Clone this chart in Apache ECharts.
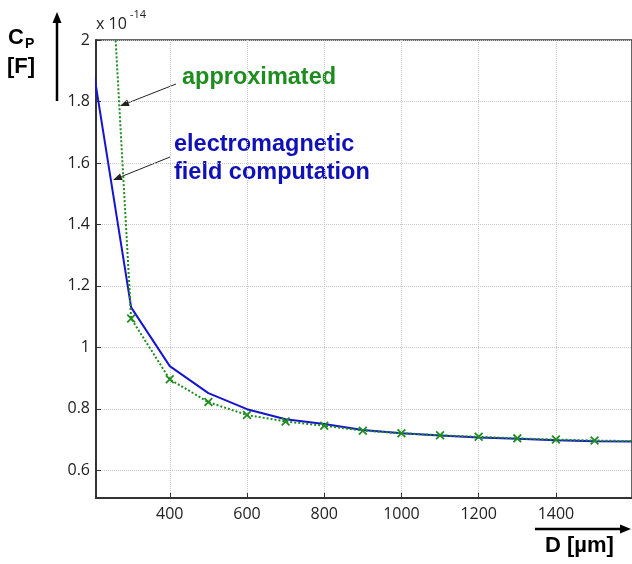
<!DOCTYPE html>
<html>
<head>
<meta charset="utf-8">
<script src="https://cdn.jsdelivr.net/npm/echarts@6/dist/echarts.min.js"></script>
<style>
  html, body { margin: 0; padding: 0; background: #fff; }
  #chart { width: 632px; height: 564px; }
</style>
</head>
<body>
<div id="chart"></div>
<script>
// D in um, capacitance in units of 1e-14 F
var dValues = [200, 300, 400, 500, 600, 700, 800, 900, 1000, 1100, 1200, 1300, 1400, 1500, 1600];
var emField = [1.92, 1.13, 0.939, 0.851, 0.799, 0.766, 0.751, 0.731, 0.721, 0.713, 0.707, 0.703, 0.698, 0.695, 0.694];
var approx = [3.35, 1.094, 0.896, 0.822, 0.780, 0.759, 0.745, 0.729, 0.721, 0.714, 0.709, 0.704, 0.700, 0.697, 0.695];

var myChart = echarts.init(document.getElementById('chart'), null, { renderer: 'canvas' });

function pairs(xs, ys) {
    return xs.map(function (x, i) { return [x, ys[i]]; });
}

// arrow: line + filled head
function arrow(x1, y1, x2, y2, width, headLen, headW, color) {
    var dx = x2 - x1, dy = y2 - y1;
    var len = Math.sqrt(dx * dx + dy * dy);
    var ux = dx / len, uy = dy / len;
    var bx = x2 - ux * headLen, by = y2 - uy * headLen;
    return [{
        type: 'line',
        shape: { x1: x1, y1: y1, x2: bx, y2: by },
        style: { stroke: color, lineWidth: width }
    }, {
        type: 'polygon',
        shape: { points: [[x2, y2], [bx - uy * headW, by + ux * headW], [bx + uy * headW, by - ux * headW]] },
        style: { fill: color }
    }];
}

var xMark = 'path://M0,1.4L1.4,0L5,3.6L8.6,0L10,1.4L6.4,5L10,8.6L8.6,10L5,6.4L1.4,10L0,8.6L3.6,5Z';
var labelFont = { fontFamily: 'Open Sans', fontSize: 16, color: '#222' };
var bold = 'Liberation Sans';
var plain = function (v) { return String(v); };

var graphics = []
    .concat(arrow(57, 101, 57, 12, 2.5, 11, 4.5, '#000'))
    .concat(arrow(535, 529, 631, 529, 2.5, 11, 4.5, '#000'))
    .concat(arrow(176, 84, 120, 106, 1, 9, 3.5, '#222'))
    .concat(arrow(170, 157, 113, 180, 1, 9, 3.5, '#222'))
    .concat([
        { type: 'text', left: 8, top: 27, style: { text: 'C', font: 'bold 22px ' + bold, fill: '#000' } },
        { type: 'text', left: 25, top: 37, style: { text: 'P', font: 'bold 14px ' + bold, fill: '#000' } },
        { type: 'text', left: 7, top: 56, style: { text: '[F]', font: 'bold 22px ' + bold, fill: '#000' } },
        { type: 'text', left: 96, top: 16, style: { text: 'x 10', font: '16px Open Sans', fill: '#222' } },
        { type: 'text', left: 130, top: 9, style: { text: '-14', font: '11px Open Sans', fill: '#222' } },
        { type: 'text', left: 182, top: 66, style: { text: 'approximated', font: 'bold 23.5px ' + bold, fill: '#1e8c1e' } },
        { type: 'text', left: 174, top: 133, style: { text: 'electromagnetic', font: 'bold 23.5px ' + bold, fill: '#1010b8' } },
        { type: 'text', left: 174, top: 161, style: { text: 'field computation', font: 'bold 23.5px ' + bold, fill: '#1010b8' } },
        { type: 'text', left: 545, top: 535, style: { text: 'D [\u00b5m]', font: 'bold 22px ' + bold, fill: '#000' } }
    ]);

var option = {
    animation: false,
    grid: { left: 96, top: 40, right: -2, bottom: 66, show: true, borderColor: '#333', borderWidth: 1.5, backgroundColor: 'transparent' },
    xAxis: {
        type: 'value',
        min: 209,
        max: 1597,
        splitNumber: 7,
        position: 'bottom',
        axisLine: { onZero: false, lineStyle: { color: '#333', width: 2 } },
        axisTick: { inside: true, length: 5, lineStyle: { color: '#333' } },
        axisLabel: Object.assign({ margin: 8, showMinLabel: false, showMaxLabel: false, formatter: plain }, labelFont),
        splitLine: { show: true, lineStyle: { color: '#c8c8c8', type: 'dotted', width: 1 } }
    },
    yAxis: {
        type: 'value',
        min: 0.51,
        max: 2,
        splitNumber: 7,
        position: 'left',
        axisLine: { show: true, onZero: false, lineStyle: { color: '#333', width: 2 } },
        axisTick: { show: true, inside: true, length: 5, lineStyle: { color: '#333' } },
        axisLabel: Object.assign({ margin: 6, showMinLabel: false, formatter: plain }, labelFont),
        splitLine: { show: true, lineStyle: { color: '#c8c8c8', type: 'dotted', width: 1 } }
    },
    series: [{
        name: 'electromagnetic field computation',
        type: 'line',
        data: pairs(dValues, emField),
        showSymbol: false,
        symbol: 'none',
        clip: true,
        lineStyle: { color: '#1515d0', width: 2 },
        z: 3
    }, {
        name: 'approximated',
        type: 'line',
        data: pairs(dValues, approx),
        symbol: xMark,
        symbolSize: 9,
        clip: true,
        itemStyle: { color: '#1e8c1e' },
        lineStyle: { color: '#1e8c1e', width: 2, type: 'dotted' },
        z: 4
    }],
    graphic: graphics
};

option && myChart.setOption(option);
</script>
</body>
</html>
